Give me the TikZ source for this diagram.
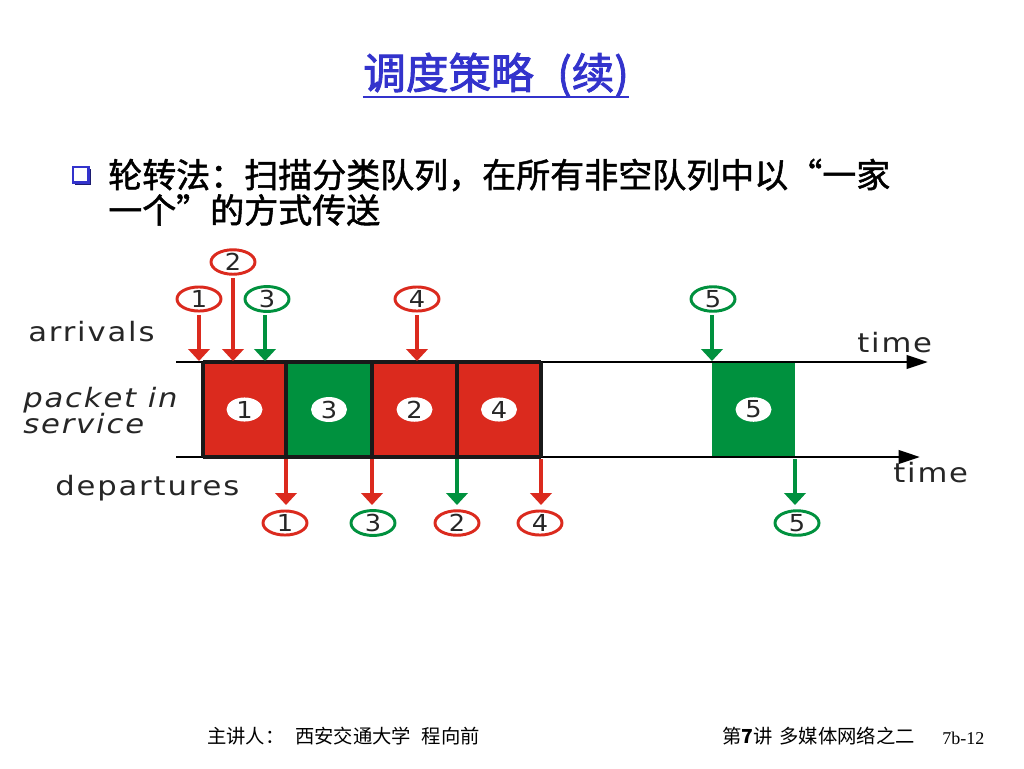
\documentclass[tikz,border=0pt]{standalone}
\usepackage{graphicx}
\usepackage{fontspec}
\setmainfont{Liberation Serif}
\newfontfamily\cjk{Noto Sans CJK SC}
\newfontfamily\cjkfb{Noto Sans CJK SC}[FakeBold=1.5]
\newfontfamily\cjktb{Noto Sans CJK SC}[FakeBold=2]
\newfontfamily\dv{DejaVu Sans}[LetterSpace=6]
\newfontfamily\dvn{DejaVu Sans}
\usetikzlibrary{arrows.meta,shapes.geometric}
\definecolor{pred}{RGB}{219,42,30}
\definecolor{pgreen}{RGB}{0,145,62}
\definecolor{tblue}{RGB}{51,51,204}
\newcommand{\dg}[1]{\scalebox{1.1}[1]{#1}}
\newcommand{\wl}[1]{\scalebox{1.15}[1]{#1}}
\begin{document}
\begin{tikzpicture}[x=0.75pt,y=-0.75pt,
  ocirc/.style={ellipse, draw, line width=2.2pt, fill=white, minimum width=33pt,
    minimum height=18pt, inner sep=0pt, text=black!85,
    font=\dvn\fontsize{17.5}{17.5}\selectfont},
  wcirc/.style={ellipse, fill=white, minimum width=27pt, minimum height=15pt,
    inner sep=0pt, text=black!85, font=\dvn\fontsize{17.5}{17.5}\selectfont},
  parr/.style={line width=2.5pt, -{Triangle[width=16pt,length=9pt]}},
  taxis/.style={line width=2.1pt, -{Triangle[width=10pt,length=16pt]}},
  bord/.style={line width=3pt, black!90},
  box/.style={rectangle, draw=none, minimum height=71.25pt, inner sep=0pt},
  lbl/.style={inner sep=0pt, text=black!85, font=\dv\fontsize{20}{22}\selectfont},
  ilbl/.style={inner sep=0pt, text=black!85, font=\dv\itshape\fontsize{20}{22}\selectfont},
  cjktxt/.style={inner sep=0pt, font=\cjkfb\fontsize{25.5}{30}\selectfont},
  foot/.style={inner sep=0pt, font=\cjk\fontsize{14.5}{16}\selectfont}
]
\useasboundingbox (0,0) rectangle (1024,768);
\fill[white] (0,0) rectangle (1024,768);

% title
\node[inner sep=0pt, text=tblue, font=\cjktb\fontsize{32}{36}\selectfont] (title) at (496,75) {调度策略\hspace{0.55em}(续)};
\draw[tblue, line width=1.6pt] (title.south west |- 0,97) coordinate (ul1) -- (title.south east |- 0,97) coordinate (ul2);

% bullet
\node[rectangle, fill=tblue!55!black, minimum size=12.5pt, inner sep=0pt] (bsh) at (83,177) {};
\node[rectangle, draw=tblue, line width=2pt, fill=white, minimum size=11.5pt, inner sep=0pt] (bul) at (80.5,174.5) {};
\node[cjktxt, anchor=west] (l1) at (108,175) {轮转法：扫描分类队列，在所有非空队列中以“一家};
\node[cjktxt, anchor=west] (l2) at (108,210) {一个”的方式传送};

% boxes
\node[box, fill=pred, minimum width=62.25pt] (b1) at (244.5,409.5) {};
\node[box, fill=pgreen, minimum width=64.5pt] (b3) at (329,409.5) {};
\node[box, fill=pred, minimum width=63.75pt] (b2) at (414.5,409.5) {};
\node[box, fill=pred, minimum width=63pt] (b4) at (499,409.5) {};
\node[box, fill=pgreen, minimum width=62.25pt] (b5) at (753.5,409.5) {};
\node[wcirc] (w1) at (b1.center) {\dg{1}};
\node[wcirc] (w3) at (b3.center) {\dg{3}};
\node[wcirc] (w2) at (b2.center) {\dg{2}};
\node[wcirc] (w4) at (b4.center) {\dg{4}};
\node[wcirc] (w5) at (b5.center) {\dg{5}};

% axes
\coordinate (tl) at (176,362);
\coordinate (tr) at (928,362);
\coordinate (bl) at (176,457);
\coordinate (br) at (920,457);
\draw[taxis] (tl) -- (tr);
\draw[taxis] (bl) -- (br);
\draw[bord] (203,362) -- (541,362);
\draw[bord] (203,457) -- (541,457);
\foreach \x in {203,286,372,457,541}{\draw[bord] (\x,362) -- (\x,457);}

% labels
\node[lbl, anchor=west] (arr) at (28,332) {\wl{arrivals}};
\node[ilbl, anchor=base west] (pk1) at (23,407) {\wl{packet in}};
\node[ilbl, anchor=base west] (pk2) at (23,433) {\wl{service}};
\node[lbl, anchor=base west] (dep) at (55,495) {\wl{departures}};
\node[lbl, anchor=base west] (t1) at (857,352) {\wl{time}};
\node[lbl, anchor=base west] (t2) at (893,482) {\wl{time}};

% arrivals
\node[ocirc, draw=pred] (a1) at (199,299) {\dg{1}};
\node[ocirc, draw=pred] (a2) at (233,262) {\dg{2}};
\node[ocirc, draw=pgreen] (a3) at (267,299) {\dg{3}};
\node[ocirc, draw=pred] (a4) at (417,299) {\dg{4}};
\node[ocirc, draw=pgreen] (a5) at (713,299) {\dg{5}};
\coordinate (ta1) at (199,361);
\coordinate (ta2) at (233,361);
\coordinate (ta3) at (265,361);
\coordinate (ta4) at (417,361);
\coordinate (ta5) at (712,361);
\draw[parr, pred] (a1.south |- 0,315) -- (ta1);
\draw[parr, pred] (a2.south |- 0,278) -- (ta2);
\draw[parr, pgreen] (265,315) -- (ta3);
\draw[parr, pred] (a4.south |- 0,315) -- (ta4);
\draw[parr, pgreen] (712,315) -- (ta5);

% departures
\node[ocirc, draw=pred] (d1) at (285,523) {\dg{1}};
\node[ocirc, draw=pgreen] (d3) at (373,523) {\dg{3}};
\node[ocirc, draw=pred] (d2) at (457,523) {\dg{2}};
\node[ocirc, draw=pred] (d4) at (540,523) {\dg{4}};
\node[ocirc, draw=pgreen] (d5) at (797,523) {\dg{5}};
\coordinate (td1) at (286,459);
\coordinate (td3) at (372,459);
\coordinate (td2) at (457,459);
\coordinate (td4) at (541,459);
\coordinate (td5) at (795,459);
\draw[parr, pred] (td1) -- (286,505);
\draw[parr, pred] (td3) -- (372,505);
\draw[parr, pgreen] (td2) -- (457,505);
\draw[parr, pred] (td4) -- (541,505);
\draw[parr, pgreen] (td5) -- (795,505);

% footer
\node[foot, anchor=west] (f1) at (207,736) {主讲人：\hspace{8pt}西安交通大学\hspace{8pt}程向前};
\node[foot, anchor=west] (f2) at (722,736) {第\textbf{7}讲\hspace{5pt}多媒体网络之二};
\node[inner sep=0pt, anchor=west, font=\fontsize{13.5}{15}\selectfont] (f3) at (942,738) {7b-12};
\end{tikzpicture}
\end{document}
